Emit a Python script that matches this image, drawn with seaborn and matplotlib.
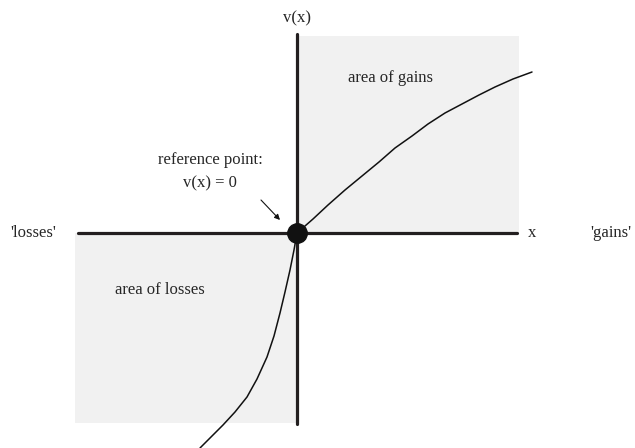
import matplotlib
matplotlib.use('Agg')
import matplotlib.pyplot as plt
import seaborn as sns
import pandas as pd

sns.set_style('white')
plt.rcParams['font.family'] = ['Liberation Serif', 'DejaVu Serif']

# value function (x = outcome, v = value)
gains_x = [0, 16, 31, 48, 65, 82, 98, 115, 131, 148, 165, 182, 198, 216, 235]
gains_v = [0, 14, 28, 43, 57, 71, 85, 97, 109, 120, 129, 138, 146, 154, 161]
losses_x = [0, -3, -7, -12, -17, -23, -30, -40, -50, -62, -74, -86, -97]
losses_v = [0, -17, -37, -59, -80, -103, -124, -146, -164, -179, -192, -204, -215]

curve = pd.DataFrame({
    'x': losses_x[::-1] + gains_x,
    'v': losses_v[::-1] + gains_v,
})

fig = plt.figure(figsize=(6.35, 4.48), dpi=100)
ax = fig.add_axes([0, 0, 1, 1])
ax.set_xlim(-297, 338)
ax.set_ylim(-215, 233)
ax.axis('off')

# shaded quadrants
ax.add_patch(plt.Rectangle((0, 0), 222, 197, color='#f1f1f1', lw=0, zorder=0))
ax.add_patch(plt.Rectangle((-222, -190), 222, 190, color='#f1f1f1', lw=0, zorder=0))

# axes
ax.plot([0, 0], [-191, 199], color='#231f20', lw=2.3, zorder=2)
ax.plot([-219, 220], [0, 0], color='#231f20', lw=2.3, zorder=2)

sns.lineplot(data=curve, x='x', y='v', ax=ax, color='#111111', lw=1.1,
             sort=False, estimator=None, zorder=3, solid_joinstyle='round')
ax.plot([0], [0], 'o', color='#111111', markersize=14, zorder=4)

fs = 12
ax.text(0, 215, 'v(x)', ha='center', va='center', fontsize=fs)
ax.text(235, 0, 'x', ha='center', va='center', fontsize=fs)
ax.text(314, 0, "'gains'", ha='center', va='center', fontsize=fs)
ax.text(-264, 0, "'losses'", ha='center', va='center', fontsize=fs)
ax.text(93, 155, 'area of gains', ha='center', va='center', fontsize=fs)
ax.text(-137, -57, 'area of losses', ha='center', va='center', fontsize=fs)
ax.text(-87, 73, 'reference point:', ha='center', va='center', fontsize=fs)
ax.text(-87, 50, 'v(x) = 0', ha='center', va='center', fontsize=fs)
ax.annotate('', xy=(-17, 13), xytext=(-36, 33),
            arrowprops=dict(arrowstyle='-|>', color='#111111', lw=0.8,
                            mutation_scale=8, shrinkA=0, shrinkB=0))

fig.savefig('out.png', dpi=100)
